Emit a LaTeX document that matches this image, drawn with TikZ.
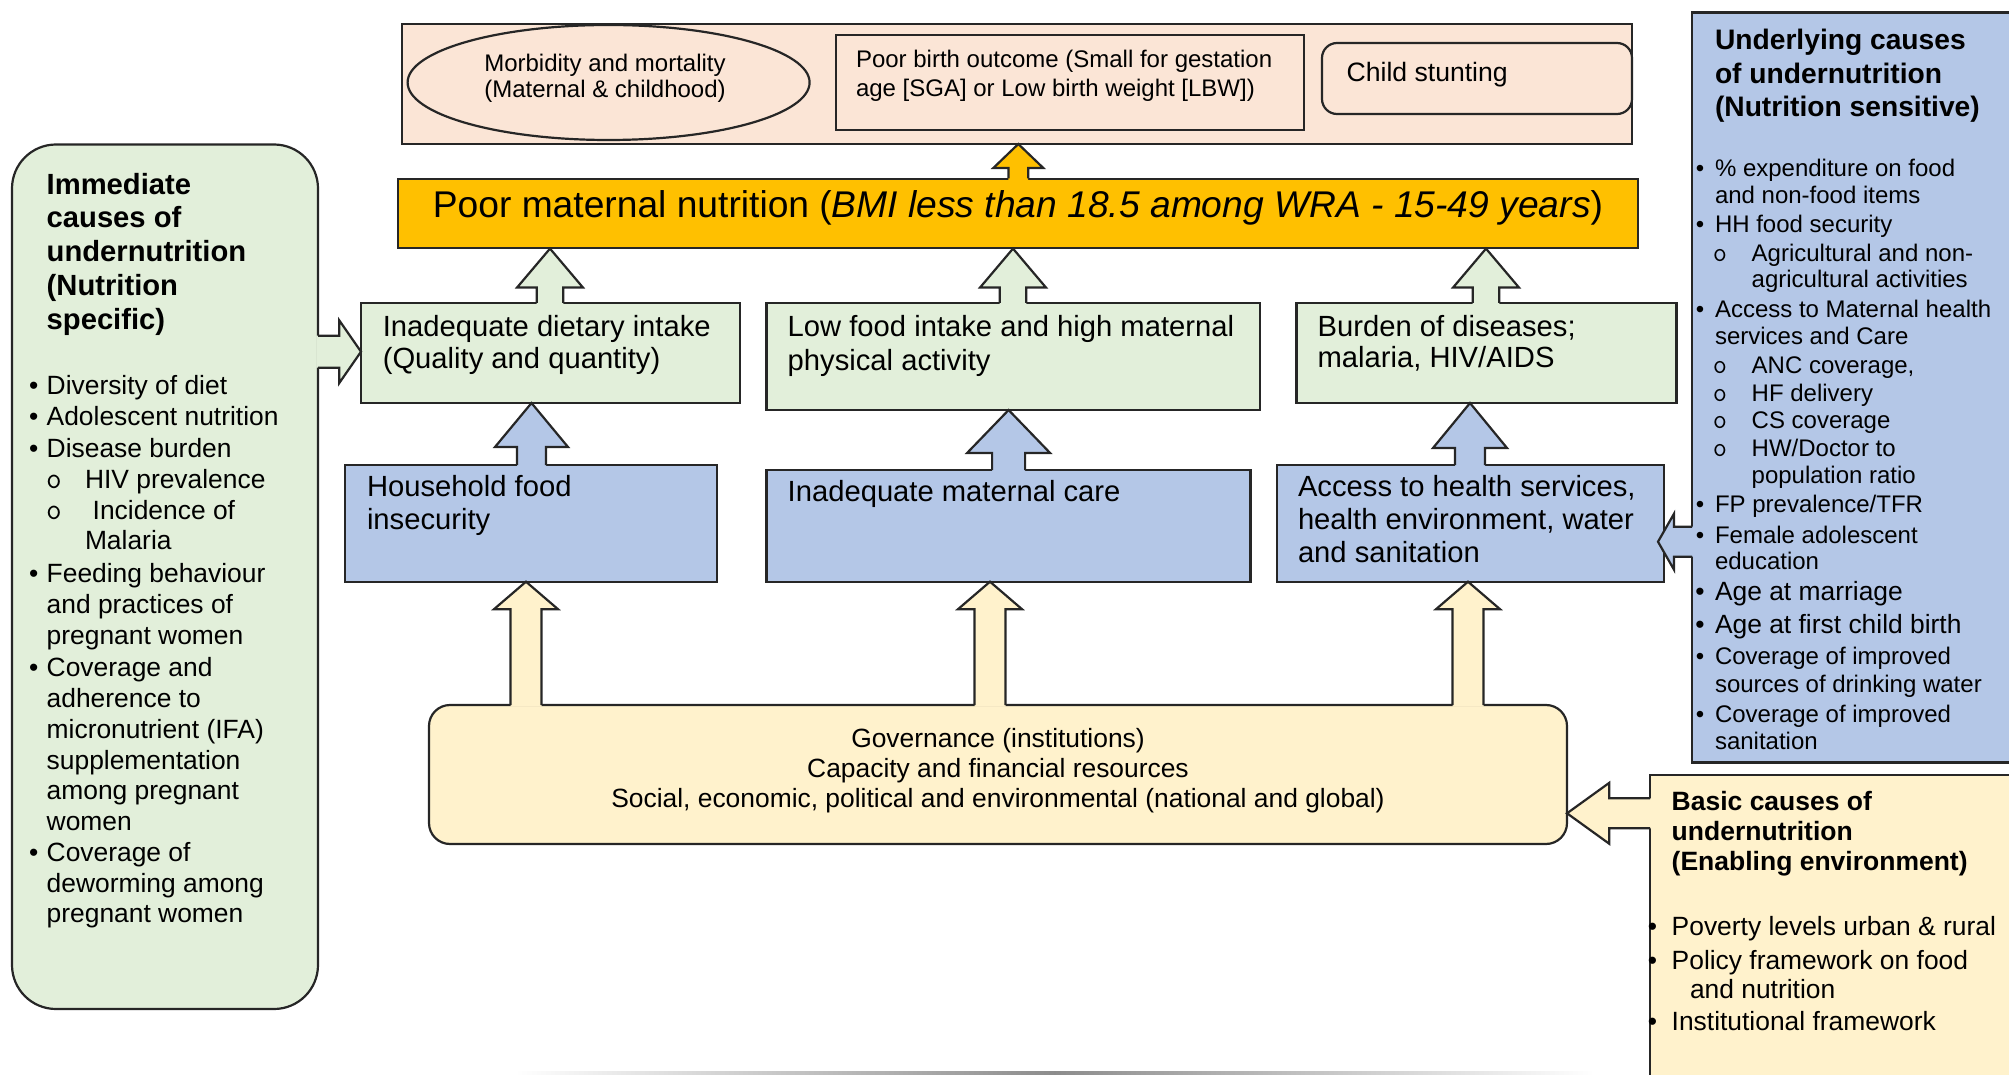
\documentclass[tikz,border=0pt]{standalone}
\usepackage{fontspec}
\setmainfont{Liberation Sans}
\usetikzlibrary{shapes.geometric,fit,calc}

\definecolor{peach}{HTML}{FBE5D6}
\definecolor{gold}{HTML}{FFC000}
\definecolor{lgreen}{HTML}{E2EFDA}
\definecolor{lblue}{HTML}{B4C7E7}
\definecolor{cream}{HTML}{FFF2CC}
\definecolor{edge}{HTML}{262626}

\newcommand\fA{\fontsize{12}{14}\selectfont}
\newcommand\fAA{\fontsize{13.3}{15}\selectfont}
\newcommand\fB{\fontsize{14.6}{17}\selectfont}
\newcommand\fC{\fontsize{13.2}{15}\selectfont}
\newcommand\fY{\fontsize{18.6}{22}\selectfont}
\newcommand\fTL{\fontsize{14.6}{17}\selectfont\bfseries}
\newcommand\fTR{\fontsize{14.1}{17}\selectfont\bfseries}
\newcommand\fTB{\fontsize{13.25}{16}\selectfont\bfseries}
\newcommand\fOL{\fontsize{15.2}{17}\selectfont\ttfamily}
\newcommand\fOR{\fontsize{13.8}{16}\selectfont\ttfamily}

\tikzset{
  bx/.style={draw=edge, line width=1.1pt, inner sep=0pt, outer sep=0pt},
  tx/.style={anchor=base west, inner sep=0pt, outer sep=0pt},
  tc/.style={anchor=base, inner sep=0pt, outer sep=0pt},
  blk/.style={draw=edge, line width=1.1pt, line join=miter},
}

% vertical block arrow pointing up: fill, x, tip ref, base ref, head half, shaft half, head length
\newcommand\upblk[7]{%
  \path let \p1=(#2,0 |- #3), \p2=(#2,0 |- #4) in
    [fill=#1] (\p1) -- ++(#5,#7) -- ++(#6-#5,0) -- (\x1+#6*0.5pt,\y2-0.8pt)
      -- (\x1-#6*0.5pt,\y2-0.8pt) -- (\x1-#6*0.5pt,\y1-#7*0.5pt) -- ++(#6-#5,0) -- cycle;
  \draw[blk] let \p1=(#2,0 |- #3), \p2=(#2,0 |- #4) in
    (\x1+#6*0.5pt,\y2) -- (\x1+#6*0.5pt,\y1-#7*0.5pt) -- ++(#5-#6,0) -- (\p1)
      -- ++(-#5,#7) -- ++(#5-#6,0) -- (\x1-#6*0.5pt,\y2);
}
% horizontal block arrow: fill, y, tip ref, base ref, head half, shaft half, head length, dir (+1 points left, -1 points right)
\newcommand\hblk[8]{%
  \path let \p1=(0,#2 -| #3), \p2=(0,#2 -| #4) in
    [fill=#1] (\p1) -- ++({(#8)*#7},-#5) -- ++(0,#5-#6) -- (\x2+#8*0.8pt,\y1+#6*0.5pt)
      -- (\x2+#8*0.8pt,\y1-#6*0.5pt) -- (\x1+#8*#7*0.5pt,\y1-#6*0.5pt) -- ++(0,#5-#6) -- cycle;
  \draw[blk] let \p1=(0,#2 -| #3), \p2=(0,#2 -| #4) in
    (\x2,\y1+#6*0.5pt) -- (\x1+#8*#7*0.5pt,\y1+#6*0.5pt) -- ++(0,#6-#5) -- (\p1)
      -- ++({(#8)*#7},#5) -- ++(0,#6-#5) -- (\x2,\y1-#6*0.5pt);
}

\begin{document}
\begin{tikzpicture}[x=0.5pt,y=-0.5pt]
\useasboundingbox (0,0) rectangle (2009,1075);
\clip (0,0) rectangle (2009,1075);

% faint shadow line at bottom
\shade[left color=white, right color=white, middle color=black!45] (515,1071.5) rectangle (1594,1075);

% ---------- top outcome panel ----------
\node[bx, fill=peach, fit={(402,24) (1632,144)}] (top) {};
\node[bx, ellipse, fill=peach, minimum width=201pt, minimum height=57.5pt] (ell) at (608.6,82.5) {};
\node[bx, fill=peach, fit={(836,35) (1304,130)}] (birth) {};
\node[bx, fill=peach, rounded corners=7.5pt, fit={(1322,43) (1632,114)}] (stunt) {};
\node[tc, font=\fA] (t1) at (605,71.5) {Morbidity and mortality};
\node[tc, font=\fA] (t2) at (605,98) {(Maternal \& childhood)};
\node[tx, font=\fA] (t3) at (856,68) {Poor birth outcome (Small for gestation};
\node[tx, font=\fA] (t4) at (856,96.5) {age [SGA] or Low birth weight [LBW])};
\node[tx, font=\fAA] (t5) at (1346.6,81.5) {Child stunting};

% ---------- poor maternal nutrition bar ----------
\node[draw=edge, line width=0.6pt, inner sep=0pt, fill=gold, fit={(398,179) (1638,248)}] (yb) {};
\node[tc, font=\fY] (ytx) at (1018,217.5) {Poor maternal nutrition (\textit{BMI less than 18.5 among WRA - 15-49 years})};

% ---------- immediate (green) boxes ----------
\node[bx, fill=lgreen, fit={(361,303) (740,403)}] (g1) {};
\node[bx, fill=lgreen, fit={(766.5,303) (1260,410)}] (g2) {};
\node[bx, fill=lgreen, fit={(1296.5,303) (1676.5,403)}] (g3) {};
\node[tx, font=\fB] (g1a) at (382.8,336) {Inadequate dietary intake};
\node[tx, font=\fB] (g1b) at (382.8,369) {(Quality and quantity)};
\node[tx, font=\fB] (g2a) at (787.7,336) {Low food intake and high maternal};
\node[tx, font=\fB] (g2b) at (787.7,371) {physical activity};
\node[tx, font=\fB] (g3a) at (1317.6,336) {Burden of diseases;};
\node[tx, font=\fB] (g3b) at (1317.6,368) {malaria, HIV/AIDS};

% ---------- underlying (blue) boxes ----------
\node[bx, fill=lblue, fit={(345,465) (717,581.7)}] (b1) {};
\node[bx, fill=lblue, fit={(766.5,470) (1250.5,581.7)}] (b2) {};
\node[bx, fill=lblue, fit={(1277,465) (1664,581.7)}] (b3) {};
\node[tx, font=\fB] (b1a) at (367,496) {Household food};
\node[tx, font=\fB] (b1b) at (367,529) {insecurity};
\node[tx, font=\fB] (b2a) at (787.7,501) {Inadequate maternal care};
\node[tx, font=\fB] (b3a) at (1298,496) {Access to health services,};
\node[tx, font=\fB] (b3b) at (1298,529) {health environment, water};
\node[tx, font=\fB] (b3c) at (1298,562) {and sanitation};

% ---------- governance box ----------
\node[bx, fill=cream, rounded corners=10.5pt, fit={(429,705) (1567,844)}] (gov) {};
\node[tc, font=\fC] (gv1) at (998,747) {Governance (institutions)};
\node[tc, font=\fC] (gv2) at (998,777) {Capacity and financial resources};
\node[tc, font=\fC] (gv3) at (998,807) {Social, economic, political and environmental (national and global)};

% ---------- left panel ----------
\node[bx, fill=lgreen, rounded corners=22pt, fit={(12,144.5) (318,1009)}] (lp) {};
\node[tx, font=\fTL] (lt1) at (46.7,194.5) {Immediate};
\node[tx, font=\fTL] (lt2) at (46.7,228) {causes of};
\node[tx, font=\fTL] (lt3) at (46.7,262) {undernutrition};
\node[tx, font=\fTL] (lt4) at (46.7,296) {(Nutrition};
\node[tx, font=\fTL] (lt5) at (46.7,329) {specific)};
\node[tc, font=\fC] (lb1) at (33.7,394) {•};
\node[tx, font=\fC] (l1) at (46.7,394) {Diversity of diet};
\node[tc, font=\fC] (lb2) at (33.7,425.6) {•};
\node[tx, font=\fC] (l2) at (46.7,425.6) {Adolescent nutrition};
\node[tc, font=\fC] (lb3) at (33.7,457.5) {•};
\node[tx, font=\fC] (l3) at (46.7,457.5) {Disease burden};
\node[tc, font=\fOL] (lo4) at (54,488.5) {o};
\node[tx, font=\fC] (l4) at (85,488.5) {HIV prevalence};
\node[tc, font=\fOL] (lo5) at (54,519.5) {o};
\node[tx, font=\fC] (l5) at (92.7,519.5) {Incidence of};
\node[tx, font=\fC] (l6) at (85,549) {Malaria};
\node[tc, font=\fC] (lb7) at (33.7,582) {•};
\node[tx, font=\fC] (l7) at (46.7,582) {Feeding behaviour};
\node[tx, font=\fC] (l8) at (46.7,613.5) {and practices of};
\node[tx, font=\fC] (l9) at (46.7,644) {pregnant women};
\node[tc, font=\fC] (lb10) at (33.7,676.5) {•};
\node[tx, font=\fC] (l10) at (46.7,676.5) {Coverage and};
\node[tx, font=\fC] (l11) at (46.7,707) {adherence to};
\node[tx, font=\fC] (l12) at (46.7,738) {micronutrient (IFA)};
\node[tx, font=\fC] (l13) at (46.7,769) {supplementation};
\node[tx, font=\fC] (l14) at (46.7,799) {among pregnant};
\node[tx, font=\fC] (l15) at (46.7,830) {women};
\node[tc, font=\fC] (lb16) at (33.7,861.5) {•};
\node[tx, font=\fC] (l16) at (46.7,861.5) {Coverage of};
\node[tx, font=\fC] (l17) at (46.7,892.5) {deworming among};
\node[tx, font=\fC] (l18) at (46.7,922.5) {pregnant women};

% ---------- right panel ----------
\node[bx, fill=lblue, fit={(1692,12.5) (2040,762.5)}] (rp) {};
\node[tx, font=\fTR] (rt1) at (1715,50) {Underlying causes};
\node[tx, font=\fTR] (rt2) at (1715,83.5) {of undernutrition};
\node[tx, font=\fTR] (rt3) at (1715,117) {(Nutrition sensitive)};
\node[tc, font=\fA] (rb1) at (1700,177) {•};
\node[tx, font=\fA] (r1) at (1715,177) {\% expenditure on food};
\node[tx, font=\fA] (r2) at (1715,204) {and non-food items};
\node[tc, font=\fA] (rb3) at (1700,233) {•};
\node[tx, font=\fA] (r3) at (1715,233) {HH food security};
\node[tc, font=\fOR] (ro4) at (1720,261.7) {o};
\node[tx, font=\fA] (r4) at (1751.7,261.7) {Agricultural and non-};
\node[tx, font=\fA] (r5) at (1751.7,288) {agricultural activities};
\node[tc, font=\fA] (rb6) at (1700,318) {•};
\node[tx, font=\fA] (r6) at (1715,318) {Access to Maternal health};
\node[tx, font=\fA] (r7) at (1715,345) {services and Care};
\node[tc, font=\fOR] (ro8) at (1720,373) {o};
\node[tx, font=\fA] (r8) at (1751.7,373) {ANC coverage,};
\node[tc, font=\fOR] (ro9) at (1720,401) {o};
\node[tx, font=\fA] (r9) at (1751.7,401) {HF delivery};
\node[tc, font=\fOR] (ro10) at (1720,428.7) {o};
\node[tx, font=\fA] (r10) at (1751.7,428.7) {CS coverage};
\node[tc, font=\fOR] (ro11) at (1720,456) {o};
\node[tx, font=\fA] (r11) at (1751.7,456) {HW/Doctor to};
\node[tx, font=\fA] (r12) at (1751.7,483.5) {population ratio};
\node[tc, font=\fA] (rb13) at (1700,512.5) {•};
\node[tx, font=\fA] (r13) at (1715,512.5) {FP prevalence/TFR};
\node[tc, font=\fA] (rb14) at (1700,543) {•};
\node[tx, font=\fA] (r14) at (1715,543) {Female adolescent};
\node[tx, font=\fA] (r15) at (1715,569) {education};
\node[tc, font=\fC] (rb16) at (1700,600.7) {•};
\node[tx, font=\fC] (r16) at (1715,600.7) {Age at marriage};
\node[tc, font=\fC] (rb17) at (1700,633) {•};
\node[tx, font=\fC] (r17) at (1715,633) {Age at first child birth};
\node[tc, font=\fA] (rb18) at (1700,664.5) {•};
\node[tx, font=\fA] (r18) at (1715,664.5) {Coverage of improved};
\node[tx, font=\fA] (r19) at (1715,692) {sources of drinking water};
\node[tc, font=\fA] (rb20) at (1700,722) {•};
\node[tx, font=\fA] (r20) at (1715,722) {Coverage of improved};
\node[tx, font=\fA] (r21) at (1715,749) {sanitation};

% ---------- basic panel ----------
\node[bx, fill=cream, fit={(1650,775) (2040,1100)}] (bp) {};
\node[tx, font=\fTB] (bt1) at (1671.7,810) {Basic causes of};
\node[tx, font=\fTB] (bt2) at (1671.7,840) {undernutrition};
\node[tx, font=\fTB] (bt3) at (1671.7,870) {(Enabling environment)};
\node[tc, font=\fC] (sb1) at (1652.5,935) {•};
\node[tx, font=\fC] (s1) at (1671.7,935) {Poverty levels urban \& rural};
\node[tc, font=\fC] (sb2) at (1652.5,969.3) {•};
\node[tx, font=\fC] (s2) at (1671.7,969.3) {Policy framework on food};
\node[tx, font=\fC] (s3) at (1690,998.3) {and nutrition};
\node[tc, font=\fC] (sb4) at (1652.5,1030) {•};
\node[tx, font=\fC] (s4) at (1671.7,1030) {Institutional framework};

% ---------- block arrows ----------
\upblk{gold}{1018.3}{top.south}{yb.north}{25}{9.9}{24}
\upblk{lgreen}{550}{yb.south}{g1.north}{33}{13.3}{39}
\upblk{lgreen}{1013}{yb.south}{g2.north}{33}{13.3}{39}
\upblk{lgreen}{1486}{yb.south}{g3.north}{33}{13.3}{39}
\upblk{lblue}{531.5}{g1.south}{b1.north}{36.5}{14.5}{44}
\upblk{lblue}{1008.6}{g2.south}{b2.north}{41.5}{16.5}{43}
\upblk{lblue}{1470}{g3.south}{b3.north}{37}{15}{45}
\upblk{cream}{526}{b1.south}{gov.north}{32}{15.5}{27.5}
\upblk{cream}{990}{b2.south}{gov.north}{32}{15.5}{27.5}
\upblk{cream}{1468}{b3.south}{gov.north}{32}{15.5}{27.5}
\hblk{lgreen}{351.7}{g1.west}{lp.east}{31.3}{16}{21.7}{-1}
\coordinate (b3tip) at ($(b3.east)+(-6,0)$);
\hblk{lblue}{541.7}{b3tip}{rp.west}{28}{15}{16}{1}
\hblk{cream}{813.3}{gov.east}{bp.west}{30.5}{15}{42.3}{1}
\end{tikzpicture}
\end{document}
